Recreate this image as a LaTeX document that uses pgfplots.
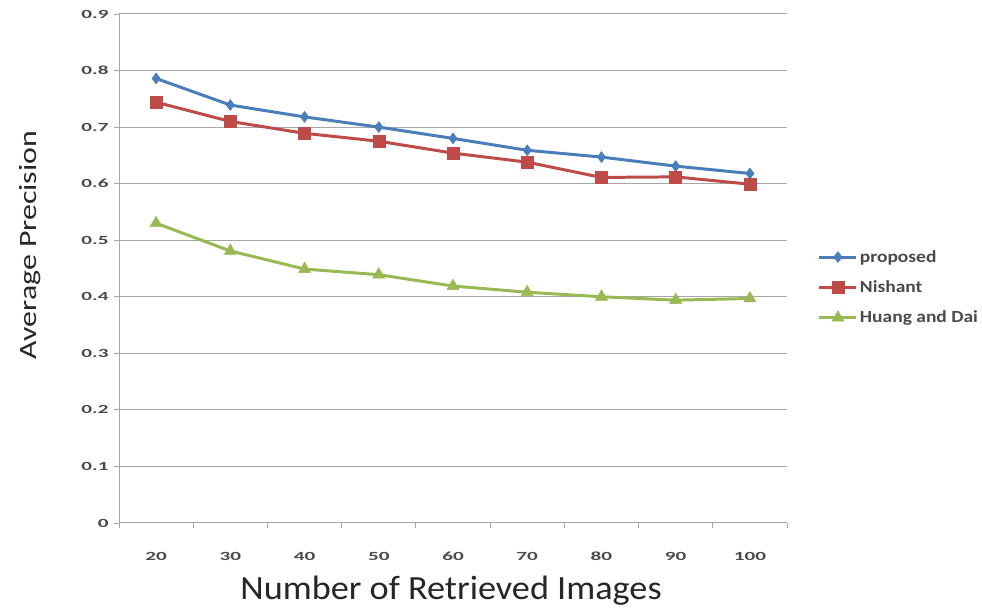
\documentclass[border=0pt]{standalone}
\usepackage{pgfplots}
\pgfplotsset{compat=1.18}
\usepackage{fontspec}
\setmainfont{Carlito}
\newfontfamily\tickfont{Carlito}[FakeStretch=1.7]
\newfontfamily\legfont{Carlito}[FakeStretch=1.15]
\newfontfamily\xlabfont{Carlito}[FakeStretch=1.07]
\newfontfamily\ylabfont{Carlito}[FakeStretch=1.28]
\definecolor{cblue}{HTML}{4A7EBB}
\definecolor{cred}{HTML}{BE4B48}
\definecolor{cgreen}{HTML}{98B954}
\definecolor{gridc}{HTML}{A6A6A6}
\definecolor{tickc}{HTML}{4A4A4A}
\begin{document}
\begin{tikzpicture}[x=1bp,y=1bp]
\useasboundingbox (0,0) rectangle (982,609);
\begin{axis}[
  at={(119bp,86bp)}, anchor=south west,
  width=668bp, height=509bp, scale only axis,
  xmin=-0.5, xmax=8.5, ymin=0, ymax=0.9,
  xtick={0,...,8}, xticklabels={20,30,40,50,60,70,80,90,100},
  minor xtick={-0.5,0.5,...,8.5},
  ytick={0,0.1,...,0.9},
  yticklabels={0,0.1,0.2,0.3,0.4,0.5,0.6,0.7,0.8,0.9},
  major x tick style={draw=none},
  minor x tick style={gridc, line width=0.8pt},
  y tick style={gridc, line width=0.8pt},
  tick align=outside,
  minor tick length=5bp, major tick length=5bp,
  ymajorgrids, grid style={gridc, line width=1pt},
  axis x line*=bottom, axis y line*=left,
  axis line style={gridc, line width=1pt, -},
  tick label style={font=\tickfont\fontsize{12.5}{14}\selectfont\bfseries, text=tickc},
  /pgf/number format/assume math mode=true,
  xticklabel style={anchor=center, yshift=-28bp},
  yticklabel style={anchor=east, xshift=-2bp},
  xlabel={Number of Retrieved Images},
  ylabel={Average Precision},
  xlabel style={font=\xlabfont\fontsize{34}{38}\selectfont, text=black!85, at={(axis description cs:0.497,-0.132)}, anchor=center},
  ylabel style={font=\ylabfont\fontsize{25}{30}\selectfont, text=black!85, at={(axis description cs:-0.133,0.546)}, anchor=center},
  legend style={at={(axis description cs:1.046,0.54)}, anchor=north west, draw=none, fill=none, inner sep=0pt,
    font=\legfont\fontsize{17}{20}\selectfont\bfseries, text=tickc, row sep=13bp, cells={anchor=west}},
  legend image code/.code={\draw[#1] (0bp,0bp) -- (37bp,0bp); \draw[#1, only marks] plot coordinates {(18.5bp,0bp)};},
  every axis plot/.append style={line width=3pt},
  clip=false,
]
\addplot[cblue, mark=diamond*, mark size=5.5bp, mark options={solid, line width=0.5pt}] coordinates {
(0,0.786) (1,0.739) (2,0.718) (3,0.700) (4,0.680) (5,0.659) (6,0.647) (7,0.631) (8,0.618)};
\addplot[cred, mark=square*, mark size=6bp, mark options={solid, line width=0.5pt}] coordinates {
(0,0.744) (1,0.710) (2,0.689) (3,0.675) (4,0.654) (5,0.638) (6,0.611) (7,0.612) (8,0.599)};
\addplot[cgreen, mark=triangle*, mark size=7bp, mark options={solid, line width=0.5pt}] coordinates {
(0,0.530) (1,0.481) (2,0.449) (3,0.439) (4,0.419) (5,0.408) (6,0.400) (7,0.394) (8,0.397)};
\legend{proposed, Nishant, Huang and Dai}
\end{axis}
\end{tikzpicture}
\end{document}
